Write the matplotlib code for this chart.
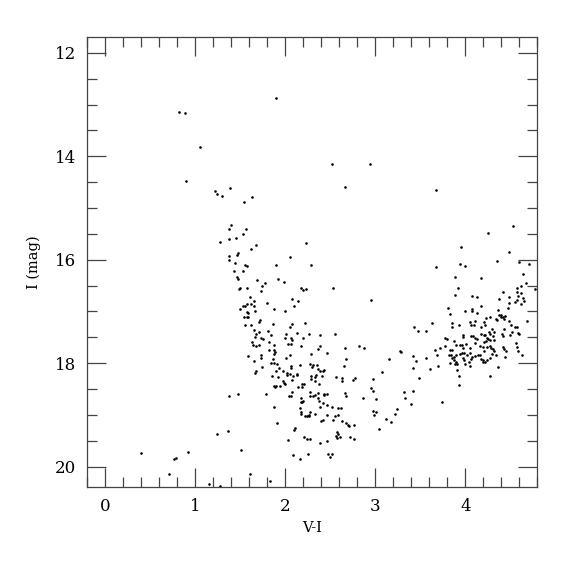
import matplotlib.pyplot as plt
from matplotlib.ticker import MultipleLocator

# colour-magnitude diagram: V-I colour and I magnitude of each star
vi = [
    # bright / upper stars
    0.82, 0.89, 1.05, 0.90, 1.39, 1.22, 1.24, 1.30, 1.63,
    1.90, 2.52, 2.94, 2.66, 3.68,
    # faint blue stars
    0.40, 0.76, 0.79, 0.92, 0.71, 1.15, 1.27, 1.51, 1.61, 1.83,
    1.24, 1.36, 1.38, 1.47, 2.09, 2.16, 2.25, 2.48, 2.52, 2.50,
    # main branch, upper part
    1.54, 1.40, 1.37, 1.56, 1.53, 1.28, 1.38, 1.45, 2.23, 1.67,
    1.62, 1.47, 1.46, 1.37, 1.37, 2.05, 1.44, 1.55, 1.58, 1.90,
    2.29, 1.43, 1.53, 1.46, 1.47, 1.69, 1.92, 1.78, 1.74, 1.99,
    1.50, 1.49, 1.58, 1.73, 2.17, 2.20, 2.23, 2.53, 1.61, 2.08,
    2.14, 1.65, 1.57, 1.62, 1.80, 1.53, 1.55, 1.50, 1.65, 2.10,
    1.88, 2.00, 1.57, 1.59, 1.66, 1.54, 1.57, 1.59, 1.72, 1.71,
    1.86, 1.55, 1.62, 2.07, 2.05, 2.22, 1.65, 1.71, 1.81, 1.67,
    1.66, 1.73, 1.75, 1.84, 2.01, 2.00, 2.13, 2.26, 2.06, 2.08,
    2.06, 2.03, 2.20, 2.39, 2.55, 1.63, 1.64, 1.68, 1.71, 1.82,
    1.87, 2.18, 2.39, 2.36, 1.82, 1.87, 1.89, 1.87, 2.29, 2.46,
    1.59, 1.73, 1.73, 2.05, 2.01, 1.86,
    2.66, 2.82, 2.88, 2.67,
    # main branch, lower part
    2.65, 1.65, 1.74, 1.67, 1.66, 1.84, 1.88, 1.91, 1.93, 1.98,
    1.90, 1.85, 1.92, 2.02, 2.02, 2.06, 2.06, 2.16, 2.05, 2.09,
    2.13, 2.13, 1.97, 1.99, 2.00, 2.08, 1.88, 1.89, 1.90, 1.94,
    1.79, 2.14, 2.19, 2.21, 2.19, 2.28, 2.31, 2.30, 2.35, 2.36,
    2.39, 2.43, 2.29, 2.29, 2.33, 2.34, 2.41, 2.42, 2.33, 2.38,
    2.56, 2.63, 2.63, 2.75, 2.78, 2.66, 2.68, 2.86, 2.98, 2.95,
    2.97, 3.01, 2.97, 3.01, 2.99, 3.04, 1.88, 1.91, 2.04, 2.06,
    2.08, 2.17, 2.19, 2.17, 2.20, 2.27, 2.28, 2.31, 2.33, 2.36,
    2.36, 2.38, 2.43, 2.43, 2.46, 2.42, 2.16, 2.17, 2.17, 2.22,
    2.24, 2.26, 2.26, 2.28, 2.33, 2.39, 2.46, 2.52, 2.40, 2.42,
    2.46, 2.53, 2.55, 2.59, 2.62, 2.59, 2.63, 2.67, 2.70, 2.71,
    2.76, 2.57, 2.59, 2.56, 2.58, 2.61, 2.72, 2.76, 2.11, 2.10,
    2.03, 2.21, 2.24, 2.27, 2.39, 2.46,
    # red clump / red giant region
    4.53, 4.25, 3.95, 4.49, 4.35, 3.94, 4.00, 3.67, 4.60, 4.71,
    4.64, 4.17, 3.89, 4.68, 4.62, 4.58, 4.77, 3.92, 4.42, 4.57,
    4.62, 4.64, 4.59, 4.58, 4.37, 4.49, 4.55, 4.49, 4.62, 4.65,
    4.47, 3.89, 2.95, 4.07, 4.13, 4.17, 3.81, 3.83, 4.00, 4.07,
    4.08, 4.13, 4.36, 4.38, 4.40, 4.40, 4.42, 4.44, 4.43, 4.34,
    4.35, 4.23, 4.27, 4.21, 4.69, 3.63, 3.85, 3.85, 3.93, 4.05,
    4.11, 4.06, 4.10, 3.43, 3.48, 3.56, 4.17, 4.22, 4.30, 4.28,
    4.32, 4.43, 4.41, 4.42, 4.49, 4.51, 4.55, 4.57, 4.52, 4.50,
    4.59, 4.60, 3.98, 3.97, 4.06, 4.09, 4.11, 4.13, 4.18, 4.21,
    4.22, 4.26, 4.24, 4.25, 4.27, 4.23, 4.21, 4.31, 4.32, 3.77,
    3.80, 3.88, 3.90, 3.94, 3.96, 4.01, 3.83, 3.85, 3.78, 3.72,
    3.98, 4.05, 4.11, 4.16, 4.20, 4.24, 4.21, 4.27, 4.29, 4.32,
    4.31, 4.42, 4.43, 4.56, 4.57, 4.59, 3.66, 3.69, 3.42, 3.45,
    3.28, 3.29, 3.15, 3.56, 3.61, 3.70, 3.82, 3.84, 3.90, 3.87,
    3.85, 3.88, 3.90, 3.91, 3.83, 3.89, 3.94, 3.96, 3.99, 3.98,
    3.99, 4.02, 4.05, 4.07, 4.06, 4.05, 4.00, 4.04, 4.11, 4.14,
    4.16, 4.18, 4.20, 4.22, 4.24, 4.20, 4.27, 4.30, 4.34, 4.44,
    4.45, 4.63, 4.36, 4.28, 3.91, 3.93, 3.42, 3.49, 3.07,
    3.32, 3.42, 3.33, 3.40, 3.24, 3.22, 3.12, 3.18, 3.74, 3.93,
]

i_mag = [
    13.15, 13.17, 13.82, 14.48, 14.62, 14.67, 14.73, 14.76, 14.79,
    12.87, 14.15, 14.14, 14.59, 14.66,
    19.74, 19.86, 19.83, 19.71, 20.15, 20.33, 20.38, 19.68, 20.14, 20.27,
    19.37, 19.32, 18.63, 18.60, 19.77, 19.85, 19.76, 19.76, 19.76, 19.82,
    14.89, 15.33, 15.40, 15.40, 15.50, 15.65, 15.60, 15.58, 15.68, 15.72,
    15.79, 15.87, 15.91, 15.93, 16.01, 15.95, 16.06, 16.11, 16.13, 16.11,
    16.11, 16.22, 16.22, 16.33, 16.37, 16.40, 16.37, 16.45, 16.51, 16.44,
    16.54, 16.57, 16.54, 16.60, 16.55, 16.58, 16.57, 16.54, 16.72, 16.76,
    16.80, 16.80, 16.85, 16.85, 16.83, 16.90, 16.90, 16.95, 16.89, 16.90,
    16.95, 16.99, 17.01, 17.03, 16.99, 17.10, 17.11, 17.11, 17.17, 17.21,
    17.24, 17.27, 17.27, 17.24, 17.30, 17.22, 17.35, 17.39, 17.37, 17.43,
    17.50, 17.51, 17.53, 17.45, 17.44, 17.51, 17.41, 17.43, 17.51, 17.56,
    17.62, 17.62, 17.52, 17.46, 17.44, 17.59, 17.65, 17.67, 17.64, 17.60,
    17.64, 17.67, 17.67, 17.73, 17.75, 17.75, 17.79, 17.82, 17.83, 17.81,
    17.86, 17.85, 17.90, 17.85, 17.90, 17.92,
    17.71, 17.67, 17.71, 17.92,
    18.06, 17.96, 18.08, 18.15, 18.19, 17.99, 18.00, 18.02, 18.09, 18.15,
    18.16, 18.25, 18.26, 18.22, 18.19, 18.05, 18.09, 18.04, 18.20, 18.24,
    18.20, 18.23, 18.35, 18.38, 18.40, 18.32, 18.45, 18.47, 18.44, 18.44,
    18.60, 18.47, 18.40, 18.40, 18.47, 18.02, 18.04, 18.08, 18.03, 18.12,
    18.15, 18.14, 18.25, 18.31, 18.26, 18.22, 18.25, 18.16, 18.35, 18.40,
    18.27, 18.29, 18.35, 18.32, 18.29, 18.58, 18.64, 18.68, 18.30, 18.48,
    18.54, 18.70, 18.93, 18.95, 19.01, 19.27, 18.85, 19.16, 18.64, 18.63,
    18.56, 18.67, 18.75, 18.76, 18.74, 18.56, 18.64, 18.64, 18.62, 18.57,
    18.68, 18.74, 18.59, 18.62, 18.60, 18.77, 18.87, 18.95, 18.98, 19.02,
    19.03, 19.02, 19.00, 18.95, 18.98, 18.84, 18.80, 18.85, 19.11, 19.09,
    19.01, 19.09, 19.03, 18.86, 18.87, 19.00, 19.11, 19.16, 19.20, 19.22,
    19.19, 19.34, 19.36, 19.40, 19.45, 19.42, 19.42, 19.47, 19.25, 19.29,
    19.48, 19.43, 19.47, 19.46, 19.54, 19.50,
    15.35, 15.49, 15.75, 15.86, 16.02, 16.08, 16.13, 16.14, 16.05, 16.09,
    16.28, 16.35, 16.33, 16.45, 16.51, 16.54, 16.57, 16.55, 16.62, 16.63,
    16.65, 16.74, 16.71, 16.78, 16.75, 16.73, 16.82, 16.84, 16.85, 16.79,
    16.93, 16.69, 16.78, 16.71, 16.73, 16.90, 16.93, 17.04, 17.00, 16.99,
    16.96, 17.03, 16.98, 17.06, 17.10, 17.06, 17.10, 17.08, 17.14, 17.15,
    17.17, 17.13, 17.11, 17.20, 17.19, 17.22, 17.22, 17.31, 17.26, 17.20,
    17.19, 17.26, 17.26, 17.30, 17.37, 17.37, 17.31, 17.26, 17.33, 17.43,
    17.40, 17.33, 17.43, 17.47, 17.19, 17.26, 17.31, 17.30, 17.40, 17.45,
    17.42, 17.43, 17.45, 17.49, 17.48, 17.48, 17.51, 17.54, 17.44, 17.46,
    17.45, 17.40, 17.51, 17.54, 17.56, 17.58, 17.60, 17.47, 17.55, 17.51,
    17.53, 17.58, 17.64, 17.65, 17.64, 17.62, 17.74, 17.75, 17.67, 17.71,
    17.71, 17.71, 17.61, 17.66, 17.69, 17.69, 17.77, 17.66, 17.71, 17.77,
    17.73, 17.69, 17.73, 17.61, 17.69, 17.77, 17.75, 17.84, 17.86, 17.95,
    17.76, 17.78, 17.91, 17.90, 18.11, 18.05, 17.84, 17.85, 17.84, 17.89,
    17.90, 17.93, 17.97, 18.01, 17.99, 18.02, 17.82, 17.81, 17.80, 17.90,
    17.93, 17.84, 17.80, 17.88, 17.92, 18.06, 18.02, 17.98, 17.87, 17.84,
    17.85, 17.91, 17.94, 17.98, 17.94, 17.97, 17.90, 17.82, 17.84, 17.89,
    17.76, 17.84, 18.07, 18.24, 18.13, 18.25, 18.10, 18.28, 18.17,
    18.56, 18.53, 18.68, 18.78, 18.88, 18.98, 19.08, 19.13, 18.75, 18.43,
]

plt.rcParams['font.family'] = ['DejaVu Serif']

fig = plt.figure(figsize=(5.75, 5.75), dpi=100)
ax = fig.add_axes([0.1518, 0.1525, 0.7826, 0.7826])

ax.scatter(vi, i_mag, s=3.5, c='black', marker='o', linewidths=0)

ax.set_xlim(-0.2, 4.8)
ax.set_ylim(20.4, 11.7)

ax.xaxis.set_major_locator(MultipleLocator(1))
ax.xaxis.set_minor_locator(MultipleLocator(0.2))
ax.yaxis.set_major_locator(MultipleLocator(2))
ax.yaxis.set_minor_locator(MultipleLocator(0.5))

ax.tick_params(which='both', direction='in', top=True, right=True,
               color='#444444', width=0.9, labelsize=12)
ax.tick_params(which='major', length=13.5, pad=8)
ax.tick_params(which='minor', length=7)
for sp in ax.spines.values():
    sp.set_color('#444444')
    sp.set_linewidth(0.9)

ax.set_xlabel('V-I', fontsize=10.5, labelpad=4)
ax.set_ylabel('I (mag)', fontsize=10.5, labelpad=10)

fig.savefig('out.png', dpi=100)
